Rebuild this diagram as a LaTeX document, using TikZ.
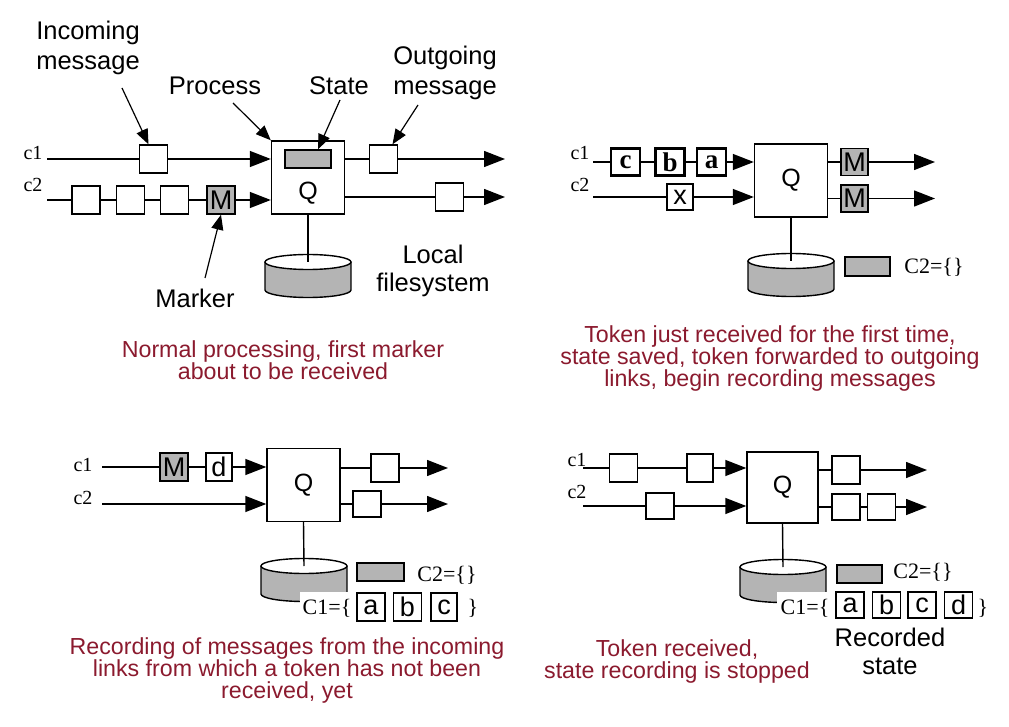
\documentclass[tikz,border=0pt]{standalone}
\usepackage{fontspec}
\setmainfont{Liberation Sans}
\newfontfamily\tms{Liberation Serif}
\usetikzlibrary{arrows.meta,positioning}
\definecolor{capred}{HTML}{8B1A2E}
\definecolor{boxgray}{HTML}{B4B4B4}
\begin{document}
\begin{tikzpicture}[x=1pt,y=-1pt,
	msgbox/.style={draw,fill=white,line width=1.4pt,minimum size=28pt,inner sep=0pt,font=\fontsize{27}{27}\selectfont},
	markbox/.style={msgbox,fill=boxgray},
	tokbox/.style={msgbox,line width=2.2pt,minimum width=29pt,minimum height=27pt,font=\tms\bfseries\fontsize{27}{27}\selectfont},
	procbox/.style={draw,fill=white,line width=1.4pt,minimum width=73pt,minimum height=73pt,font=\fontsize{25}{25}\selectfont},
	statebox/.style={draw,fill=boxgray,line width=1.4pt,minimum width=46pt,minimum height=18pt,inner sep=0pt},
	wire/.style={line width=1.4pt},
	chan/.style={line width=1.4pt,-{Triangle[length=21pt,width=16pt]}},
	ptr/.style={line width=1.2pt,-{Triangle[length=15pt,width=12pt]}},
	chanlbl/.style={font=\tms\fontsize{20}{20}\selectfont,inner sep=0pt},
	setlbl/.style={font=\tms\fontsize{22}{22}\selectfont,inner sep=0pt},
	lbl/.style={font=\fontsize{25.5}{30}\selectfont,align=center,inner sep=0pt},
	caption/.style={font=\fontsize{23.2}{22}\selectfont,text=capred,align=center,inner sep=0pt}]
	% Disk macro: name, centre x, top y
	\def\disk#1#2#3{%
		\fill[boxgray] (#2-43,#3) rectangle (#2+43,#3+28);
		\fill[boxgray] (#2,#3+28) ellipse [x radius=43pt,y radius=7.5pt];
		\draw[wire] (#2-43,#3) -- (#2-43,#3+28) arc[start angle=180,end angle=360,x radius=43pt,y radius=7.5pt] -- (#2+43,#3);
		\draw[wire,fill=white] (#2,#3) ellipse [x radius=43pt,y radius=7.5pt];
		\coordinate (#1) at (#2,#3);}
	\useasboundingbox (0,0) rectangle (1009,727);

	% Panel 1: normal processing
	\node[procbox] (Q1) at (308,177.5) {};
	\node[font=\fontsize{25}{25}\selectfont] (q1) at (308,193) {Q};
	\node[statebox] (st1) at (308,159) {};
	\node[msgbox] (i11) at (153.5,159) {};
	\node[msgbox] (i21) at (86,200) {};
	\node[msgbox] (i22) at (130.5,200) {};
	\node[msgbox] (i23) at (174.5,200) {};
	\node[markbox] (mk1) at (221,200) {M};
	\node[msgbox] (o11) at (383.5,159) {};
	\node[msgbox] (o12) at (449.5,197) {};
	\coordinate (s11) at (47,159);
	\coordinate (s12) at (47,200);
	\coordinate (e11) at (505,159);
	\coordinate (e12) at (505,197);
	\draw[wire] (s11) -- (i11);
	\draw[chan] (i11) -- (Q1.west |- i11);
	\draw[wire] (s12) -- (i21) -- (i22) -- (i23) -- (mk1);
	\draw[chan] (mk1) -- (Q1.west |- mk1);
	\draw[wire] (Q1.east |- o11) -- (o11);
	\draw[chan] (o11) -- (e11);
	\draw[wire] (Q1.east |- o12) -- (o12);
	\draw[chan] (o12) -- (e12);
	\disk{fs1}{308}{262}
	\draw[wire] (Q1.south) -- (fs1);
	\node[chanlbl] (c11) at (33,153) {c1};
	\node[chanlbl] (c12) at (33,185) {c2};
	% Labels and pointers
	\node[lbl,align=left] (lin) at (88,48) {Incoming\\message};
	\node[lbl] (lproc) at (215,86) {Process};
	\node[lbl] (lstate) at (339,86) {State};
	\node[lbl] (lout) at (445,73) {Outgoing\\message};
	\node[lbl] (lmark) at (195,298) {Marker};
	\node[lbl,font=\fontsize{25.5}{28}\selectfont] (lfs) at (433,271) {Local\\filesystem};
	\coordinate (pin) at (122,88);
	\coordinate (pproc) at (233,103);
	\coordinate (pst) at (340,100);
	\coordinate (pout) at (418,105);
	\coordinate (pmk) at (205,278);
	\draw[ptr] (pin) -- ([xshift=-5pt]i11.north);
	\draw[ptr] (pproc) -- (Q1.north west);
	\draw[ptr] (pst) -- ([xshift=10pt]st1.north);
	\draw[ptr] (pout) -- ([xshift=9pt]o11.north);
	\draw[ptr] (pmk) -- (mk1.south);
	\node[caption] (cap1) at (283,360) {Normal processing, first marker\\about to be received};

	% Panel 2: token just received
	\node[procbox] (Q2) at (791,180.5) {Q};
	\node[tokbox] (tc2) at (625.5,162) {c};
	\node[tokbox] (tb2) at (670,162) {b};
	\node[tokbox] (ta2) at (711.5,162) {a};
	\node[msgbox,minimum size=26pt] (tx2) at (680,197) {x};
	\node[markbox,minimum size=27pt] (om21) at (854.5,162) {M};
	\node[markbox,minimum size=27pt] (om22) at (854.5,198.5) {M};
	\coordinate (s21) at (593,162);
	\coordinate (s22) at (593,197);
	\coordinate (e21) at (935,162);
	\coordinate (e22) at (935,198.5);
	\draw[wire] (s21) -- (tc2) -- (tb2) -- (ta2);
	\draw[chan] (ta2) -- (Q2.west |- ta2);
	\draw[wire] (s22) -- (tx2);
	\draw[chan] (tx2) -- (Q2.west |- tx2);
	\draw[wire] (Q2.east |- om21) -- (om21);
	\draw[chan] (om21) -- (e21);
	\draw[wire] (Q2.east |- om22) -- (om22);
	\draw[chan] (om22) -- (e22);
	\disk{fs2}{791}{261}
	\draw[wire] (Q2.south) -- (fs2);
	\node[statebox,minimum width=45pt,minimum height=19pt] (st2) at (867.5,266.5) {};
	\node[setlbl] (cs22) at (934,267) {C2=\{\}};
	\node[chanlbl] (c21) at (580,153) {c1};
	\node[chanlbl] (c22) at (580,185) {c2};
	\node[caption] (cap2) at (770,359) {Token just received for the first time,\\state saved, token forwarded to outgoing\\links, begin recording messages};

	% Panel 3: recording
	\node[procbox] (Q3) at (303.5,485) {Q};
	\node[markbox] (mk3) at (174,467) {M};
	\node[msgbox,minimum width=26pt] (bd3) at (219,467) {d};
	\node[msgbox] (o31) at (385,468) {};
	\node[msgbox,minimum height=26pt] (o32) at (367,504) {};
	\coordinate (s31) at (102,467);
	\coordinate (s32) at (102,504);
	\coordinate (e31) at (448,468);
	\coordinate (e32) at (448,504);
	\draw[wire] (s31) -- (mk3) -- (bd3);
	\draw[chan] (bd3) -- (Q3.west |- bd3);
	\draw[chan] (s32) -- (Q3.west |- s32);
	\draw[wire] (Q3.east |- o31) -- (o31);
	\draw[chan] (o31) -- (e31);
	\draw[wire] (Q3.east |- o32) -- (o32);
	\draw[chan] (o32) -- (e32);
	\disk{fs3}{304}{566}
	\draw[wire] (Q3.south) -- (fs3);
	\node[statebox,minimum width=47pt] (st3) at (380.5,572) {};
	\node[setlbl] (cs32) at (447,575) {C2=\{\}};
	\fill[white] (300,592) rectangle (480,625);
	\node[setlbl] (cs31) at (327,608) {C1=\{};
	\node[msgbox] (ra3) at (371,607) {a};
	\node[msgbox] (rb3) at (407.5,607) {b};
	\node[msgbox,minimum width=26pt] (rc3) at (444,607) {c};
	\node[setlbl] (ce3) at (473,608) {\}};
	\node[chanlbl] (c31) at (83,465) {c1};
	\node[chanlbl] (c32) at (83,498) {c2};
	\node[caption] (cap3) at (287,670) {Recording of messages from the incoming\\links from which a token has not been\\received, yet};

	% Panel 4: recording stopped
	\node[procbox,minimum width=71pt,minimum height=71pt] (Q4) at (782.5,487.5) {Q};
	\node[msgbox] (p41) at (623.5,468) {};
	\node[msgbox,minimum width=26pt] (p42) at (700,468) {};
	\node[msgbox,minimum height=26pt] (p43) at (660,506) {};
	\node[msgbox] (o41) at (846,470) {};
	\node[msgbox,minimum height=26pt] (o42) at (846,507) {};
	\node[msgbox,minimum height=26pt] (o43) at (881.5,507) {};
	\coordinate (s41) at (583,468);
	\coordinate (s42) at (583,506);
	\coordinate (e41) at (927,470);
	\coordinate (e42) at (927,507);
	\draw[wire] (s41) -- (p41) -- (p42);
	\draw[chan] (p42) -- (Q4.west |- p42);
	\draw[wire] (s42) -- (p43);
	\draw[chan] (p43) -- (Q4.west |- p43);
	\draw[wire] (Q4.east |- o41) -- (o41);
	\draw[chan] (o41) -- (e41);
	\draw[wire] (Q4.east |- o42) -- (o42) -- (o43);
	\draw[chan] (o43) -- (e42);
	\disk{fs4}{783}{567}
	\draw[wire] (Q4.south) -- (fs4);
	\node[statebox,minimum width=45pt] (st4) at (859.5,574) {};
	\node[setlbl] (cs42) at (923,572) {C2=\{\}};
	\fill[white] (777,592) rectangle (992,625);
	\node[setlbl] (cs41) at (805,608) {C1=\{};
	\node[msgbox,minimum height=26pt] (ra4) at (850,605) {a};
	\node[msgbox,minimum height=26pt] (rb4) at (886.5,605) {b};
	\node[msgbox,minimum height=26pt] (rc4) at (922,605) {c};
	\node[msgbox,minimum height=26pt] (rd4) at (958.5,605) {d};
	\node[setlbl] (ce4) at (983,608) {\}};
	\node[lbl,font=\fontsize{25.5}{28}\selectfont] (lrec) at (890,651) {Recorded\\state};
	\node[chanlbl] (c41) at (577,460) {c1};
	\node[chanlbl] (c42) at (577,492) {c2};
	\node[caption] (cap4) at (677,661) {Token received,\\state recording is stopped};
\end{tikzpicture}
\end{document}
